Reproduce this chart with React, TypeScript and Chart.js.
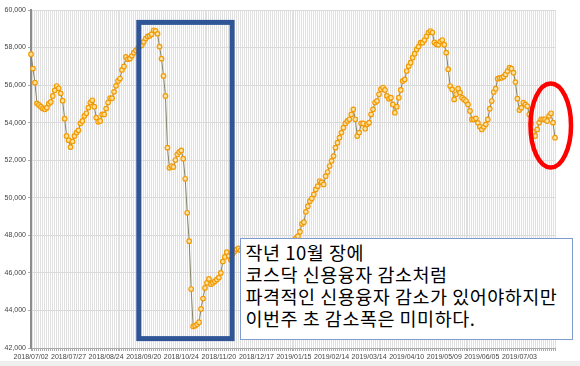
import React, { useEffect, useRef } from "react";
import { Chart, registerables } from "chart.js";

Chart.register(...registerables);

// KRX trading calendar (first day + market holidays)
const START_DATE = "2018-07-02";
const HOLIDAYS = [
  "2018-08-15", "2018-09-24", "2018-09-25", "2018-09-26", "2018-10-03", "2018-10-09",
  "2018-12-25", "2019-01-01", "2019-02-04", "2019-02-05", "2019-02-06", "2019-03-01",
  "2019-05-01", "2019-05-06", "2019-06-06",
];

// x-axis labels shown
const TICK_LABELS = [
  "2018/07/02", "2018/07/27", "2018/08/24", "2018/09/20", "2018/10/24", "2018/11/20",
  "2018/12/17", "2019/01/15", "2019/02/14", "2019/03/14", "2019/04/10", "2019/05/09",
  "2019/06/05", "2019/07/03",
];

const Y_MIN = 42000;
const Y_MAX = 60000;
const Y_STEP = 2000;

// 코스닥 신용융자 잔고 (억원)
const CREDIT_BALANCE = [
  57650, 56880, 56130, 55030, 54940, 54850, 54760, 54710, 54800, 55010,
  55100, 55420, 55720, 55950, 55830, 55560, 55170, 54210, 53290, 53070,
  52700, 53000, 53290, 53470, 53590, 53960, 54090, 54360, 54500, 54800,
  55070, 55190, 54850, 54270, 54050, 54090, 54440, 54440, 54750, 55070,
  55300, 55300, 55640, 55960, 56220, 56350, 56810, 56990, 57500, 57380,
  57410, 57560, 57730, 57850, 57950, 58050, 58120, 58300, 58480, 58590,
  58620, 58710, 58920, 58890, 58730, 58050, 57410, 56490, 55420, 52670,
  51600, 51690, 51640, 52010, 52310, 52440, 52520, 52080, 51010, 49200,
  47690, 45140, 43150, 43190, 43260, 43370, 44080, 44630, 45200, 45470,
  45680, 45400, 45470, 45560, 45650, 45750, 46000, 46600, 46850, 47100,
  46900, 46700, 47000, 47150, 47250,
  47300, 47200, 47350, 47250, 47100,
  46950, 47000, 47150, 47050, 46900, 46800, 46700, 46650, 46800, 46700,
  46600, 46550, 46650, 46800, 46900, 47000, 47100, 47200, 47300, 47400,
  47500, 47600, 47700, 47750, 47850, 47950,
  48190, 48610, 48700, 49250,
  49550, 49820, 49960, 50180, 50440, 50620, 50890, 50830, 50710, 51150,
  51370, 51690, 51960, 52220, 52670, 52930, 53200, 53470, 53730, 53960,
  54090, 54180, 54440, 54710, 54180, 53290, 53470, 53960, 53960, 53680,
  53910, 54000, 54440, 54710, 55070, 55160, 55510, 55780, 55870, 55740,
  55420, 55270, 55330, 54970, 54530, 54850, 55330, 55740, 56220, 56300,
  56750, 57010, 57190, 57460, 57670, 57900, 58050, 58260, 58260, 58400,
  58600, 58800, 58880, 58800, 58270, 58170, 58150, 58320, 58400, 58150,
  57730, 56840, 55950, 55770, 55240, 55510, 55810, 55600, 55330, 55240,
  55150, 54970, 54620, 54170, 54170, 54230, 53990, 53780, 53640, 53780,
  53910, 54170, 54740, 55150, 55630, 55810, 56340, 56380, 56390, 56450,
  56570, 56750, 56930, 56870, 56660, 56160, 55280, 54670, 54800, 55060,
  54970, 54880, 54440, 53950, 53500, 53290, 53640, 54000, 54180, 54180,
  54180, 54090, 54360, 54500, 54000, 53200,
];

// annotation extents in data coordinates (category index / value)
const BOX_X = [54.5, 101.7];
const BOX_Y = [59340, 42500];
const ELLIPSE_X = [252.6, 273.1];
const ELLIPSE_Y = [56090, 51610];

const NOTE_LINES = [
  "작년 10월 장에",
  "코스닥 신용융자 감소처럼",
  "파격적인 신용융자 감소가 있어야하지만",
  "이번주 초 감소폭은 미미하다.",
];

function tradingDays(start: string, count: number, holidays: string[]): string[] {
  const out: string[] = [];
  const d = new Date(start + "T00:00:00Z");
  while (out.length < count) {
    const dow = d.getUTCDay();
    const iso = d.toISOString().slice(0, 10);
    if (dow !== 0 && dow !== 6 && !holidays.includes(iso)) out.push(iso.replace(/-/g, "/"));
    d.setUTCDate(d.getUTCDate() + 1);
  }
  return out;
}

const FONT = "Arial, 'Liberation Sans', sans-serif";

export default function App() {
  const ref = useRef<HTMLCanvasElement | null>(null);

  useEffect(() => {
    if (!ref.current) return;
    const labels = tradingDays(START_DATE, CREDIT_BALANCE.length, HOLIDAYS);

    const annotate = {
      id: "annotate",
      afterDraw(chart: any) {
        const { ctx } = chart;
        const x = chart.scales.x;
        const y = chart.scales.y;
        ctx.save();
        const l = x.getPixelForValue(BOX_X[0]);
        const r = x.getPixelForValue(BOX_X[1]);
        const t = y.getPixelForValue(BOX_Y[0]);
        const b = y.getPixelForValue(BOX_Y[1]);
        ctx.strokeStyle = "#2F5597";
        ctx.lineWidth = 5;
        ctx.strokeRect(l, t, r - l, b - t);
        const el = x.getPixelForValue(ELLIPSE_X[0]);
        const er = x.getPixelForValue(ELLIPSE_X[1]);
        const et = y.getPixelForValue(ELLIPSE_Y[0]);
        const eb = y.getPixelForValue(ELLIPSE_Y[1]);
        ctx.beginPath();
        ctx.ellipse((el + er) / 2, (et + eb) / 2, (er - el) / 2, (eb - et) / 2, 0, 0, Math.PI * 2);
        ctx.strokeStyle = "#FF0000";
        ctx.lineWidth = 4.5;
        ctx.stroke();
        ctx.restore();
      },
    };

    const chart = new Chart(ref.current, {
      type: "line",
      data: {
        labels,
        datasets: [
          {
            data: CREDIT_BALANCE,
            borderColor: "#86846a",
            borderWidth: 1,
            pointRadius: 2.3,
            pointBorderWidth: 1.2,
            pointBorderColor: "#F29A06",
            pointBackgroundColor: "#FBE2A0",
            tension: 0,
          },
        ],
      },
      options: {
        responsive: false,
        maintainAspectRatio: false,
        animation: false,
        layout: { padding: { top: 10, right: 25, left: 0, bottom: 0 } },
        plugins: { legend: { display: false }, tooltip: { enabled: false } },
        scales: {
          x: {
            type: "category",
            offset: false,
            grid: { color: "#e0e0e0", lineWidth: 1, tickLength: 3, tickColor: "#aaa" },
            border: { color: "#aaa", width: 1 },
            ticks: {
              autoSkip: false,
              maxRotation: 0,
              minRotation: 0,
              padding: 2,
              color: "#444",
              font: { size: 7, family: FONT },
              callback: (_v: any, i: number) => (TICK_LABELS.includes(labels[i]) ? labels[i] : ""),
            },
            afterFit: (s: any) => {
              s.height = 18;
            },
          },
          y: {
            min: Y_MIN,
            max: Y_MAX,
            grid: { color: "#dadada", lineWidth: 1, tickLength: 3, tickColor: "#aaa" },
            border: { color: "#8c8c8c", width: 2 },
            ticks: {
              stepSize: Y_STEP,
              padding: 2,
              color: "#444",
              font: { size: 7, family: FONT },
              callback: (v: any) => Number(v).toLocaleString("en-US"),
            },
            afterFit: (s: any) => {
              s.width = 31;
            },
          },
        },
      },
      plugins: [annotate],
    });
    return () => chart.destroy();
  }, []);

  return (
    <div style={{ position: "fixed", left: 0, top: 0, width: 580, height: 366, background: "#fff" }}>
      <canvas ref={ref} width={580} height={366} style={{ display: "block", width: 580, height: 366 }} />
      <div
        style={{
          position: "absolute",
          left: 239.5,
          top: 237.5,
          width: 333,
          height: 102,
          boxSizing: "border-box",
          border: "1px solid #7f9bcf",
          background: "#fff",
          padding: "2px 0 0 5px",
          fontFamily: "'Noto Sans CJK KR', 'Noto Sans', sans-serif",
          fontSize: 18.5,
          letterSpacing: "0.5px",
          lineHeight: "22.3px",
          color: "#000",
          whiteSpace: "nowrap",
        }}
      >
        {NOTE_LINES.map((t) => (
          <div key={t}>{t}</div>
        ))}
      </div>
      <div style={{ position: "absolute", left: 0, top: 361, width: 580, height: 5, background: "#efefef" }} />
    </div>
  );
}
